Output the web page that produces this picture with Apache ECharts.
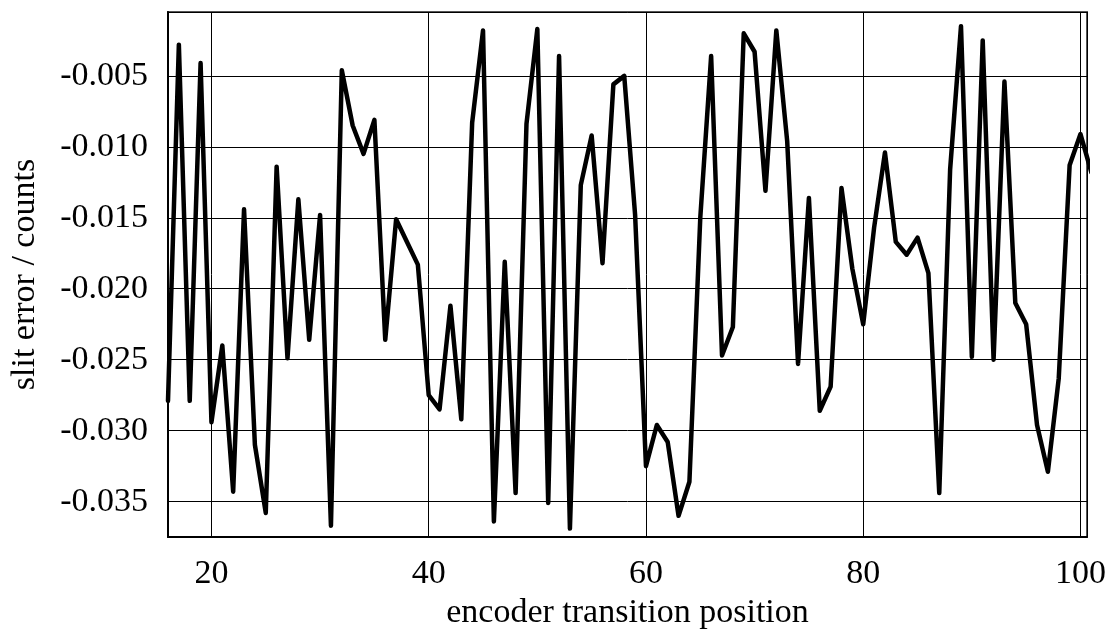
<!DOCTYPE html>
<html>
<head>
<meta charset="utf-8">
<script src="https://cdn.jsdelivr.net/npm/echarts@6/dist/echarts.min.js"></script>
<style>
html,body{margin:0;padding:0;background:#fff;}
#chart{width:1113px;height:635px;}
</style>
</head>
<body>
<div id="chart"></div>
<script>
// encoder transition positions
const positions = [16,17,18,19,20,21,22,23,24,25,26,27,28,29,30,31,32,33,34,35,36,37,38,39,40,
  41,42,43,44,45,46,47,48,49,50,51,52,53,54,55,56,57,58,59,60,61,62,63,64,65,66,67,68,69,70,
  71,72,73,74,75,76,77,78,79,80,81,82,83,84,85,86,87,88,89,90,91,92,93,94,95,96,97,98,99,100,101];
// slit error / counts
const slitError = [-0.0279,-0.0028,-0.0279,-0.0041,-0.0294,-0.0240,-0.0343,-0.0144,-0.0310,-0.0358,
  -0.0114,-0.0249,-0.0137,-0.0236,-0.0148,-0.0367,-0.0046,-0.0085,-0.0105,-0.0081,
  -0.0236,-0.0151,-0.0167,-0.0183,-0.0275,-0.0285,-0.0212,-0.0292,-0.0083,-0.0018,
  -0.0364,-0.0181,-0.0344,-0.0084,-0.0017,-0.0351,-0.0036,-0.0369,-0.0127,-0.0092,
  -0.0182,-0.0056,-0.0050,-0.0148,-0.0325,-0.0296,-0.0308,-0.0360,-0.0336,-0.0150,
  -0.0036,-0.0247,-0.0227,-0.0020,-0.0033,-0.0131,-0.0018,-0.0096,-0.0253,-0.0136,
  -0.0286,-0.0269,-0.0129,-0.0186,-0.0225,-0.0157,-0.0104,-0.0167,-0.0176,-0.0164,
  -0.0189,-0.0344,-0.0116,-0.0015,-0.0248,-0.0025,-0.0250,-0.0054,-0.0210,-0.0225,
  -0.0296,-0.0329,-0.0263,-0.0113,-0.0091,-0.0118];
const xTitle = 'encoder transition position';
const yTitle = 'slit error / counts';

const seriesData = positions.map((p, i) => [p, slitError[i]]);
const FONT = '"Liberation Serif", "Times New Roman", serif';

const chart = echarts.init(document.getElementById('chart'), null, {renderer: 'canvas'});
chart.setOption({
  animation: false,
  backgroundColor: '#ffffff',
  grid: {left: 167, right: 26, top: 12, bottom: 90, show: true, borderColor: '#555', borderWidth: 2},
  xAxis: {
    type: 'value', min: 16, max: 100.6, splitNumber: 5,
    name: xTitle, nameLocation: 'middle', nameGap: 53,
    nameTextStyle: {fontFamily: FONT, fontSize: 34, color: '#000'},
    axisLine: {show: true, onZero: false, lineStyle: {color: '#000', width: 2}},
    axisTick: {show: false},
    axisLabel: {margin: 20, showMinLabel: false, showMaxLabel: false,
      fontFamily: FONT, fontSize: 34, color: '#000'},
    splitLine: {show: true, lineStyle: {color: '#000', width: 1}}
  },
  yAxis: {
    type: 'value', min: -0.0375, max: -0.0005, splitNumber: 8,
    name: yTitle, nameLocation: 'middle', nameGap: 126, nameRotate: 90,
    nameTextStyle: {fontFamily: FONT, fontSize: 34, color: '#000'},
    axisLine: {show: true, onZero: false, lineStyle: {color: '#000', width: 2}},
    axisTick: {show: false},
    axisLabel: {margin: 20, showMinLabel: false, showMaxLabel: false,
      fontFamily: FONT, fontSize: 34, color: '#000',
      formatter: v => v.toFixed(3)},
    splitLine: {show: true, lineStyle: {color: '#000', width: 1}}
  },
  series: [{
    type: 'line', data: seriesData, showSymbol: false, symbol: 'none', clip: true,
    lineStyle: {color: '#000', width: 4.5, join: 'round', cap: 'round'}
  }]
});
</script>
</body>
</html>
